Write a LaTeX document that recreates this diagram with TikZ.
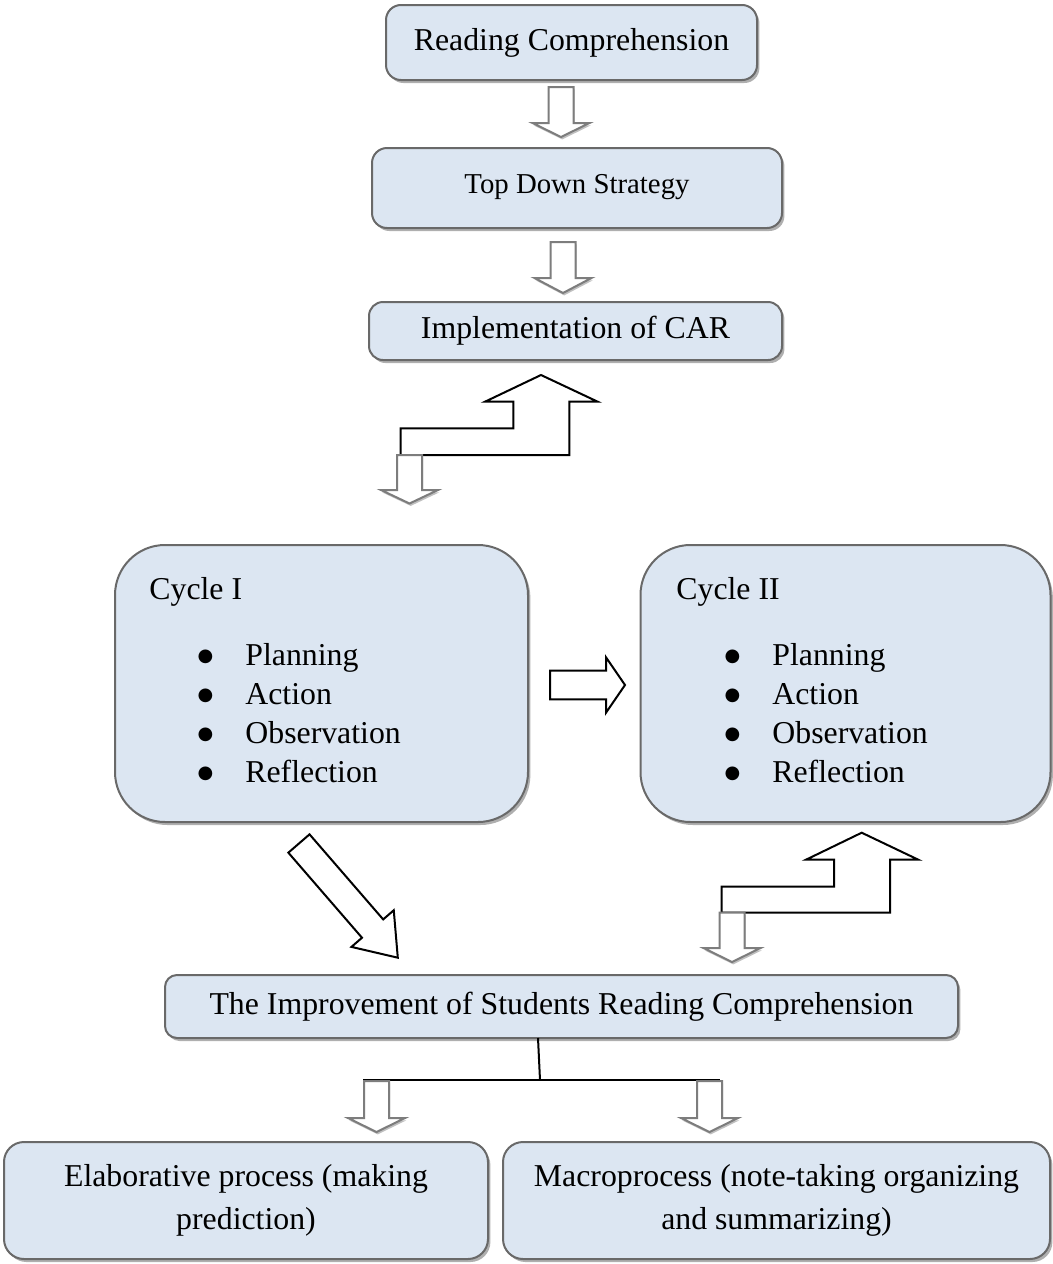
\documentclass[tikz,border=0pt]{standalone}
\usepackage{fontspec}
\setmainfont{Liberation Serif}
\newfontfamily\bulfont{DejaVu Sans}
\usetikzlibrary{shadows}
\definecolor{boxfill}{RGB}{220,230,242}
\definecolor{boxborder}{RGB}{105,105,105}
\definecolor{shadowgray}{RGB}{175,175,175}
\definecolor{arrowgray}{RGB}{125,125,125}
\newcommand{\mainsz}{\fontsize{15.9}{21.5}\selectfont}
\newcommand{\smallsz}{\fontsize{14.4}{18}\selectfont}
\newcommand{\bulitem}[1]{\makebox[10pt][c]{\raisebox{1.8pt}{\bulfont\fontsize{9}{10}\selectfont ●}}\hspace{15pt}#1}
\newcommand{\gdownarr}[4]{\filldraw[garrow] (#1-12.5,#2) -- (#1+12.5,#2) -- (#1+12.5,#3) -- (#1+28.5,#3) -- (#1,#4) -- (#1-28.5,#3) -- (#1-12.5,#3) -- cycle;}
\tikzset{
  box/.style={draw=boxborder, line width=1pt, fill=boxfill, inner sep=0pt, align=center,
    font=\mainsz, text=black,
    drop shadow={shadow xshift=1.2pt, shadow yshift=-1.5pt, fill=shadowgray, opacity=1}},
  garrow/.style={draw=arrowgray, line width=1pt, fill=white, line join=miter,
    drop shadow={shadow xshift=0.6pt, shadow yshift=-1.2pt, fill=shadowgray, opacity=0.8}},
  barrow/.style={draw=black, line width=1pt, fill=white, line join=miter},
  txt/.style={font=\mainsz, inner sep=0pt, anchor=base west},
  conn/.style={draw=black, line width=1pt}
}
\begin{document}
\begin{tikzpicture}[x=0.5pt,y=-0.5pt]
\useasboundingbox (0,0) rectangle (1053,1264);

% top boxes
\node[box, rounded corners=7.5pt, minimum width=185.5pt, minimum height=37.5pt] (rc) at (571.5,42.5) {Reading Comprehension};
\node[box, rounded corners=7.5pt, minimum width=205pt, minimum height=40pt] (tds) at (577,188) {\smallsz\raisebox{4.5pt}{Top Down Strategy}};
\node[box, rounded corners=7pt, minimum width=206.5pt, minimum height=29pt] (car) at (575.5,331) {Implementation of CAR};

% grey arrows between top boxes
\gdownarr{561}{87}{123}{137}
\gdownarr{563}{242}{278}{293}

% bent arrow 1
\filldraw[barrow] (541,375) -- (597.7,401.7) -- (569.3,401.7) -- (569.3,455) -- (400.7,455) -- (400.7,428.3) -- (513.3,428.3) -- (513.3,401.7) -- (485,401.7) -- cycle;
\gdownarr{409.5}{455}{490}{503.5}

% cycle boxes
\node[box, rounded corners=25pt, minimum width=206.5pt, minimum height=138.5pt] (c1) at (321.5,683.5) {};
\node[box, rounded corners=25pt, minimum width=205pt, minimum height=138.5pt] (c2) at (845.5,683.5) {};

\node[txt] (c1t) at (149,599) {Cycle I};
\node[txt] (c1i1) at (195,665) {\bulitem{Planning}};
\node[txt] (c1i2) at (195,704) {\bulitem{Action}};
\node[txt] (c1i3) at (195,743) {\bulitem{Observation}};
\node[txt] (c1i4) at (195,782) {\bulitem{Reflection}};

\node[txt] (c2t) at (676,599) {Cycle II};
\node[txt] (c2i1) at (722,665) {\bulitem{Planning}};
\node[txt] (c2i2) at (722,704) {\bulitem{Action}};
\node[txt] (c2i3) at (722,743) {\bulitem{Observation}};
\node[txt] (c2i4) at (722,782) {\bulitem{Reflection}};

% right arrow between cycles
\filldraw[barrow] (550,670.7) -- (606,670.7) -- (606,657.3) -- (625,685) -- (606,712.7) -- (606,699.3) -- (550,699.3) -- cycle;

% diagonal arrow
\filldraw[barrow] (309.54,834.34) -- (383.18,919.41) -- (393.76,910.24) -- (397.79,957.69) -- (351.42,946.9) -- (362.0,937.73) -- (288.36,852.66) -- cycle;

% bent arrow 2
\filldraw[barrow] (861.7,832.7) -- (918.3,859.7) -- (890,859.7) -- (890,912.7) -- (721.7,912.7) -- (721.7,886.5) -- (834,886.5) -- (834,859.7) -- (806,859.7) -- cycle;
\gdownarr{732}{912.7}{948}{962}

% improvement box
\node[box, rounded corners=6pt, minimum width=396.5pt, minimum height=31.5pt] (imp) at (561.5,1006.5) {The Improvement of Students Reading Comprehension};

% split lines
\coordinate (jt) at (538,1038);
\coordinate (jb) at (540,1080);
\coordinate (hl) at (363,1080);
\coordinate (hr) at (720,1080);
\draw[conn] (jt) -- (jb);
\draw[conn] (hl) -- (hr);

\gdownarr{376.5}{1081}{1118}{1132}
\gdownarr{709.5}{1081}{1118}{1132}

% bottom boxes
\node[box, rounded corners=10pt, minimum width=242pt, minimum height=58.5pt] (ela) at (246,1200.5) {Elaborative process (making\\prediction)};
\node[box, rounded corners=10pt, minimum width=273.5pt, minimum height=58.5pt] (mac) at (776.5,1200.5) {Macroprocess (note-taking organizing\\and summarizing)};
\end{tikzpicture}
\end{document}
